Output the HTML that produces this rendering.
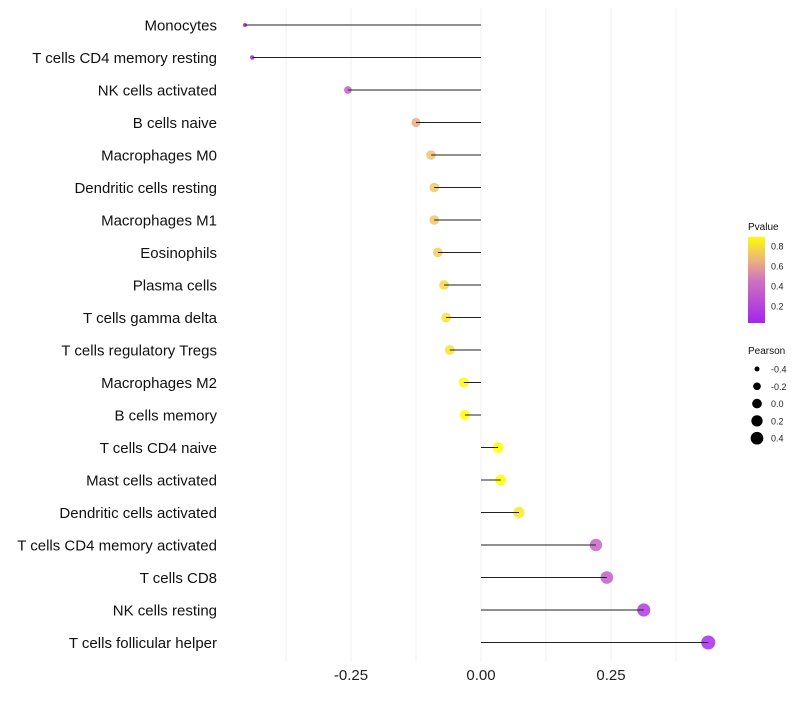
<!DOCTYPE html>
<html><head><meta charset="utf-8"><style>
body{margin:0;background:#fff;font-family:"Liberation Sans",sans-serif}
</style></head><body>
<svg id="chart" width="800" height="700" xmlns="http://www.w3.org/2000/svg"></svg>
<script>
const categories=["Monocytes","T cells CD4 memory resting","NK cells activated","B cells naive","Macrophages M0","Dendritic cells resting","Macrophages M1","Eosinophils","Plasma cells","T cells gamma delta","T cells regulatory  Tregs ","Macrophages M2","B cells memory","T cells CD4 naive","Mast cells activated","Dendritic cells activated","T cells CD4 memory activated","T cells CD8","NK cells resting","T cells follicular helper"];
const pearson=[-0.454,-0.440,-0.256,-0.125,-0.096,-0.090,-0.090,-0.083,-0.071,-0.067,-0.060,-0.033,-0.031,0.033,0.038,0.073,0.221,0.242,0.313,0.437];
const pvalue=[0.04,0.05,0.35,0.64,0.70,0.72,0.72,0.74,0.78,0.80,0.81,0.88,0.90,0.90,0.89,0.83,0.38,0.33,0.15,0.07];
const xTicks=[-0.25,0,0.25];
const xTickLabels=["-0.25","0.00","0.25"];
const pLegend=[0.8,0.6,0.4,0.2];
const sizeLegend=[-0.4,-0.2,0.0,0.2,0.4];
const NS="http://www.w3.org/2000/svg";
const svg=document.getElementById('chart');
const x=v=>481+v*520;
const y=i=>25+i*32.5;
const r=v=>Math.sqrt(Math.max(3,27.5+50.6*v));
function lerp(a,b,t){return a+(b-a)*t}
const stops=[[0,[160,32,240]],[0.45,[208,112,192]],[0.7,[240,192,112]],[0.9,[255,255,0]],[1,[255,255,0]]];
function col(p){for(let k=0;k<stops.length-1;k++){const[a,ca]=stops[k],[b,cb]=stops[k+1];if(p<=b){const t=Math.max(0,(p-a)/(b-a));return`rgb(${ca.map((c,j)=>Math.round(lerp(c,cb[j],t))).join(',')})`;}}return'rgb(255,255,0)';}
function el(t,a,p){const e=document.createElementNS(NS,t);for(const k in a)e.setAttribute(k,a[k]);(p||svg).appendChild(e);return e;}
[-0.375,-0.25,-0.125,0,0.125,0.25,0.375].forEach(v=>{const g=el('line',{x1:x(v),x2:x(v),y1:8,y2:662,stroke:'#f0f0f0','stroke-width':1});

});
xTicks.forEach((v,i)=>{const t=el('text',{x:x(v),y:680,'text-anchor':'middle','font-size':15,fill:'#222'});t.textContent=xTickLabels[i];

});
categories.forEach((c,i)=>{
const t=el('text',{x:217,y:y(i)+5.5,'text-anchor':'end','font-size':15,fill:'#111'});t.textContent=c;


const pt=el('circle',{cx:x(pearson[i]),cy:y(i),r:r(pearson[i]),fill:col(pvalue[i]),'fill-opacity':0.85});


const ln=el('line',{x1:x(0),x2:x(pearson[i]),y1:y(i),y2:y(i),stroke:'#222','stroke-width':1});


});
const defs=el('defs',{});const lg=el('linearGradient',{id:'pg',x1:0,y1:1,x2:0,y2:0},defs);
[0,0.25,0.5,0.75,1].forEach(f=>{el('stop',{offset:f,'stop-color':col(0.03+f*0.86)},lg);});
const lt=el('text',{x:748,y:230,'font-size':10,fill:'#111'});lt.textContent='Pvalue';


const bar=el('rect',{x:748,y:237,width:17,height:86,fill:'url(#pg)'});


pLegend.forEach(p=>{const yy=323-(p-0.03)/0.86*86;const t=el('text',{x:771,y:yy+3.5,'font-size':9,fill:'#222'});t.textContent=p.toFixed(1);

});
const st=el('text',{x:748,y:354,'font-size':10,fill:'#111'});st.textContent='Pearson';


sizeLegend.forEach((v,i)=>{const yy=369+i*17.3;const c=el('circle',{cx:757,cy:yy,r:r(v)*0.92,fill:'#000'});


const t=el('text',{x:771,y:yy+3.5,'font-size':9,fill:'#222'});t.textContent=v.toFixed(1);

});
</script>
</body></html>
